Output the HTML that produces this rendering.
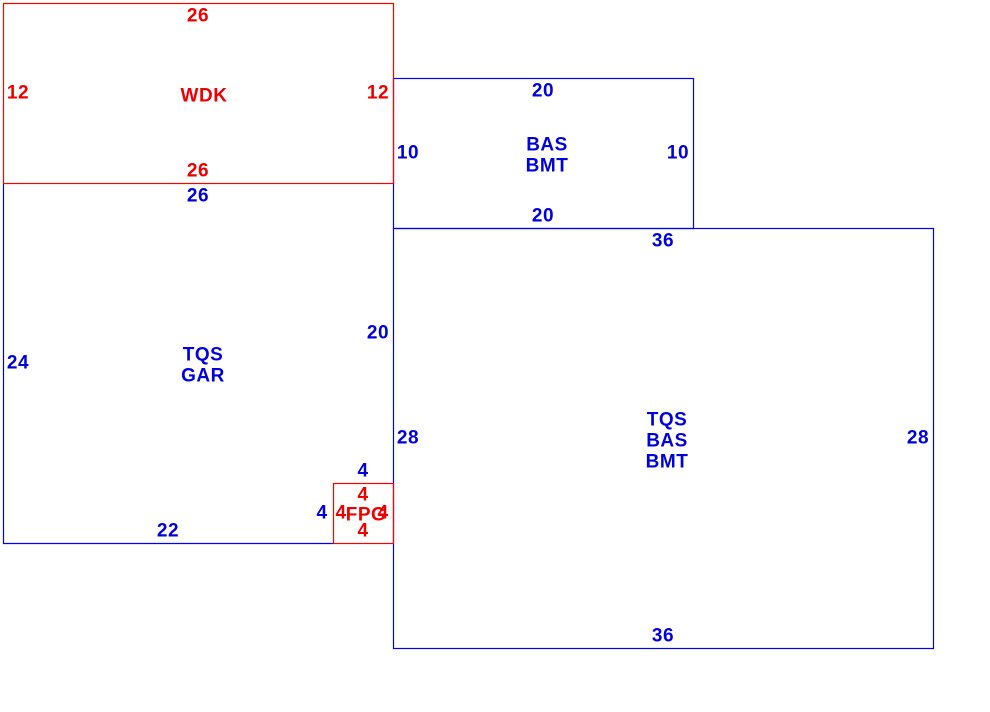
<!DOCTYPE html>
<html><head><style>
html,body{margin:0;padding:0;background:#fff;}
svg{display:block;}
text{font-family:"Liberation Sans",sans-serif;font-weight:bold;font-size:19px;text-anchor:middle;dominant-baseline:central;letter-spacing:0.5px;}
.b{fill:#0000dd;} .r{fill:#ee0000;}
</style></head><body>
<svg width="990" height="712" viewBox="0 0 990 712">
<g fill="none" stroke-width="1.2">
<path d="M3.5 183.5 V543.5 H333.5" stroke="#0000ff"/>
<rect x="393.5" y="78.5" width="300" height="150" stroke="#0000ff"/>
<rect x="393.5" y="228.5" width="540" height="420" stroke="#0000ff"/>
<rect x="3.5" y="3.5" width="390" height="180" stroke="#ff0000"/>
<rect x="333.5" y="483.5" width="60" height="60" stroke="#ff0000"/>
</g>
<text class="r" x="198" y="16">26</text>
<text class="r" x="18" y="93">12</text>
<text class="r" x="378" y="93">12</text>
<text class="r" x="204" y="96">WDK</text>
<text class="r" x="198" y="171">26</text>
<text class="b" x="198" y="196">26</text>
<text class="b" x="543" y="91">20</text>
<text class="b" x="408" y="153">10</text>
<text class="b" x="678" y="153">10</text>
<text class="b" x="547" y="145">BAS</text>
<text class="b" x="547" y="166">BMT</text>
<text class="b" x="543" y="216">20</text>
<text class="b" x="663" y="241">36</text>
<text class="b" x="378" y="333">20</text>
<text class="b" x="18" y="363">24</text>
<text class="b" x="203" y="355">TQS</text>
<text class="b" x="203" y="376">GAR</text>
<text class="b" x="408" y="438">28</text>
<text class="b" x="918" y="438">28</text>
<text class="b" x="667" y="420">TQS</text>
<text class="b" x="667" y="441">BAS</text>
<text class="b" x="667" y="462">BMT</text>
<text class="b" x="363" y="471">4</text>
<text class="b" x="322" y="513">4</text>
<text class="b" x="168" y="531">22</text>
<text class="r" x="363" y="495">4</text>
<text class="r" x="341" y="513">4</text>
<text class="r" x="366" y="515">FPG</text>
<text class="r" x="383" y="513">4</text>
<text class="r" x="363" y="531">4</text>
<text class="b" x="663" y="636">36</text>
</svg>
</body></html>
